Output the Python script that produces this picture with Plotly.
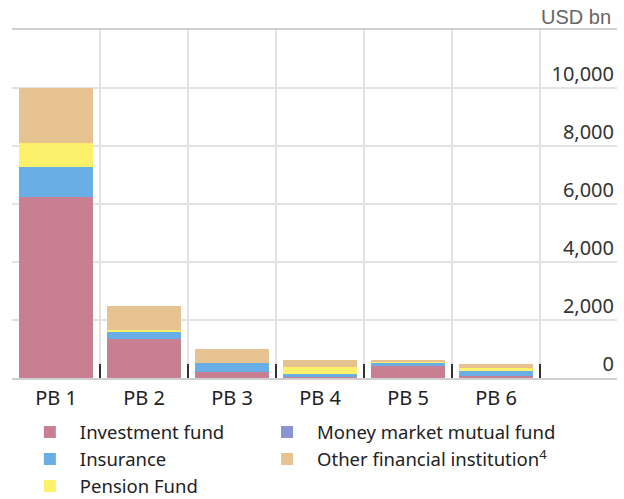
import plotly.graph_objects as go

categories = ["PB 1", "PB 2", "PB 3", "PB 4", "PB 5", "PB 6"]
investment_fund = [6250, 1330, 195, 45, 400, 70]
insurance = [1010, 240, 330, 90, 150, 180]
pension_fund = [860, 80, 0, 260, 20, 80]
money_market = [0, 0, 0, 0, 0, 0]
other_fin = [1880, 820, 475, 230, 50, 150]

y_ticks = [0, 2000, 4000, 6000, 8000, 10000]

series = [
    ("Investment fund", investment_fund, "#c97f92", "legend"),
    ("Insurance", insurance, "#69afe5", "legend"),
    ("Pension Fund", pension_fund, "#fdf06b", "legend"),
    ("Money market mutual fund", money_market, "#8c93d3", "legend2"),
    ("Other financial institution<sup>4</sup>", other_fin, "#e7c391", "legend2"),
]

FONT = "Noto Sans"
fig = go.Figure()
for name, vals, color, lg in series:
    fig.add_trace(go.Bar(
        x=categories, y=vals, name=name, marker=dict(color=color, line=dict(width=0)),
        legend=lg, width=0.85,
    ))

legend_common = dict(
    orientation="v", traceorder="normal", xanchor="left", yanchor="top",
    font=dict(size=18.5, color="#222"), itemwidth=50, tracegroupgap=0,
    bgcolor="rgba(0,0,0,0)",
)

fig.update_layout(
    width=624, height=499,
    margin=dict(l=12, r=7, t=30, b=121, autoexpand=False),
    barmode="stack",
    plot_bgcolor="white", paper_bgcolor="white",
    font=dict(family=FONT, size=20, color="#222"),
    showlegend=True,
    legend=dict(legend_common, x=0.013, y=-0.102),
    legend2=dict(legend_common, x=0.405, y=-0.102),
    xaxis=dict(
        type="category", range=[-0.5, 6.375],
        tickson="boundaries", ticks="inside", ticklen=14, tickwidth=2, tickcolor="#333",
        showgrid=True, gridcolor="#e3e3e3", gridwidth=1.5,
        showline=True, linecolor="#d0d0d0", linewidth=1.5, mirror=True,
        tickfont=dict(size=20, color="#222"), ticklabelstandoff=1,
        fixedrange=True,
    ),
    yaxis=dict(
        range=[0, 12000], side="right", tickvals=y_ticks, tickformat=",d",
        ticklabelposition="inside", ticklabelshift=-14, ticklabeloverflow="allow", ticks="",
        showgrid=True, gridcolor="#e3e3e3", gridwidth=1.5,
        zeroline=False, showline=False,
        tickfont=dict(size=20, color="#333"),
    ),
    annotations=[dict(
        text="USD bn", xref="paper", yref="paper", x=0.993, y=(378 - 17.5) / 348,
        xanchor="right", yanchor="middle", showarrow=False,
        font=dict(size=20, color="#666", family="Liberation Sans"),
    )],
)

fig.write_html("out.html", config={"displayModeBar": False},
               post_script="document.body.style.margin='0';")
